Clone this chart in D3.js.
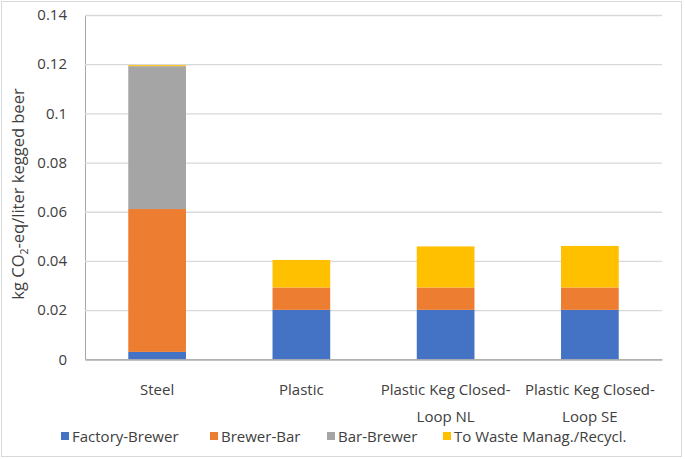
<!DOCTYPE html>
<html><head><meta charset="utf-8">
<script src="https://cdn.jsdelivr.net/npm/d3@7"></script>
<style>body{margin:0;background:#fff}svg{display:block}text{font-family:"Open Sans",sans-serif;fill:#404040}</style>
</head><body><svg id="c" width="685" height="459"></svg>
<script>
const categories = ["Steel", "Plastic", "Plastic Keg Closed-Loop NL", "Plastic Keg Closed-Loop SE"];
const seriesNames = ["Factory-Brewer", "Brewer-Bar", "Bar-Brewer", "To Waste Manag./Recycl."];
const factoryBrewer = [0.003, 0.0201, 0.0201, 0.0201];
const brewerBar = [0.0581, 0.0091, 0.0091, 0.0091];
const barBrewer = [0.0581, 0, 0, 0];
const toWaste = [0.0004, 0.0112, 0.0167, 0.0169];
const yTicks = [0, 0.02, 0.04, 0.06, 0.08, 0.1, 0.12, 0.14];
const colors = ["#4472C4", "#ED7D31", "#A5A5A5", "#FFC000"];

const svg = d3.select("#c");
const m = {l: 85, r: 662, t: 15, b: 359.3};
svg.append("rect").attr("x", 1.5).attr("y", 1.5).attr("width", 680).attr("height", 455)
  .attr("fill", "#fff").attr("stroke", "#d9d9d9");

const x = d3.scaleBand().domain(categories).range([m.l, m.r]).paddingInner(0.6).paddingOuter(0.3);
const y = d3.scaleLinear().domain([0, 0.14]).range([m.b, m.t]);

// gridlines
const yAxis = d3.axisLeft(y).tickValues(yTicks).tickSize(-(m.r - m.l)).tickFormat(d => d3.format("~g")(d));
const gy = svg.append("g").attr("transform", `translate(${m.l},0)`).call(yAxis);
gy.select(".domain").attr("stroke", "#a6a6a6");
gy.selectAll(".tick line").attr("stroke", "#d9d9d9").attr("stroke-width", 1.3);
gy.selectAll(".tick text").style("font-size", "15px").style("font-family", "'Open Sans',sans-serif")
  .attr("fill", "#404040").attr("x", -18);

// stacked bars
const rows = categories.map((c, i) => ({cat: c, s0: factoryBrewer[i], s1: brewerBar[i], s2: barBrewer[i], s3: toWaste[i]}));
const stack = d3.stack().keys(["s0", "s1", "s2", "s3"])(rows);
svg.append("g").selectAll("g").data(stack).join("g").attr("fill", (d, i) => colors[i])
  .selectAll("rect").data(d => d).join("rect")
  .attr("x", d => x(d.data.cat)).attr("width", x.bandwidth())
  .attr("y", d => y(d[1])).attr("height", d => Math.max(0, y(d[0]) - y(d[1])));

// x axis line
const xAxis = d3.axisBottom(x).tickSize(0).tickFormat("");
const gx = svg.append("g").attr("transform", `translate(0,${m.b})`).call(xAxis);
gx.select(".domain").attr("stroke", "#a6a6a6").attr("stroke-width", 1.3);

// category labels
categories.forEach(c => {
  const lines = c.replace("Closed-", "Closed-\n").split("\n");
  const t = svg.append("text").attr("text-anchor", "middle").style("font-size", "15px")
    .attr("x", x(c) + x.bandwidth() / 2).attr("y", 395);
  lines.forEach((ln, k) => t.append("tspan").attr("x", x(c) + x.bandwidth() / 2).attr("dy", k ? 27 : 0).text(ln));
});

// y label
const yl = svg.append("text").attr("transform", "translate(24,194) rotate(-90)").attr("text-anchor", "middle").style("font-size", "16.5px");
yl.append("tspan").text("kg CO");
yl.append("tspan").text("2").style("font-size", "10.5px").attr("dy", 4);
yl.append("tspan").text("-eq/liter kegged beer").attr("dy", -4);

// legend
const legX = [61, 210, 327, 443];
const leg = svg.append("g");
seriesNames.forEach((n, i) => {
  leg.append("rect").attr("x", legX[i]).attr("y", 432).attr("width", 8).attr("height", 8).attr("fill", colors[i]);
  leg.append("text").attr("x", legX[i] + 11).attr("y", 442).style("font-size", "15px").text(n);
});
</script></body></html>
